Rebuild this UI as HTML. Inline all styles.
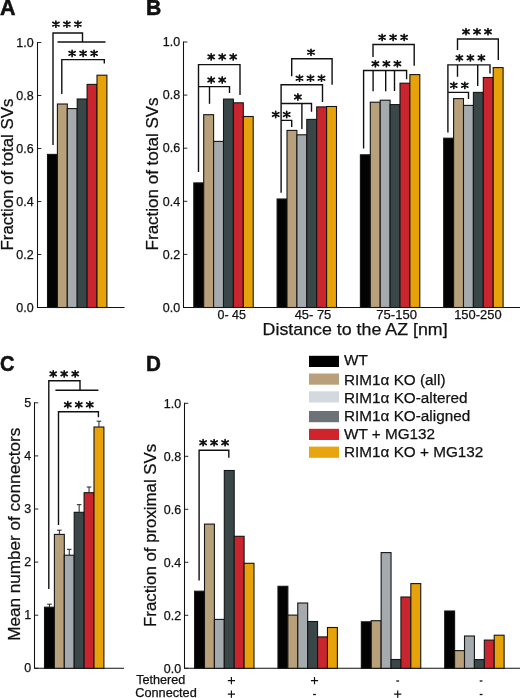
<!DOCTYPE html>
<html><head><meta charset="utf-8"><style>
html,body{margin:0;padding:0;background:#fff;width:520px;height:698px;overflow:hidden}
svg{display:block;will-change:transform}
text{font-family:"Liberation Sans", sans-serif;fill:#111;stroke:#111;stroke-width:0.25px}
</style></head><body>
<svg width="520" height="698" viewBox="0 0 520 698">
<text transform="translate(0 15.2) scale(1.0 1)" x="0" y="0" font-size="21.5" font-weight="bold" style="stroke-width:0.55px">A</text>
<text transform="translate(145.9 15.1) scale(0.97 1)" x="0" y="0" font-size="21.8" font-weight="bold" style="stroke-width:0.55px">B</text>
<text transform="translate(0.1 370.5) scale(0.93 1)" x="0" y="0" font-size="21.5" font-weight="bold" style="stroke-width:0.55px">C</text>
<text transform="translate(146.1 370.5) scale(0.96 1)" x="0" y="0" font-size="21.5" font-weight="bold" style="stroke-width:0.55px">D</text>
<path d="M37.5,42.5V307.5H124" fill="none" stroke="#111" stroke-width="1.05" stroke-linejoin="miter" stroke-linecap="square"/>
<path d="M37.5,307.50H41.3" fill="none" stroke="#111" stroke-width="0.9" />
<text x="33.6" y="312.4" font-size="12" text-anchor="end" textLength="17.35" lengthAdjust="spacingAndGlyphs" >0.0</text>
<path d="M37.5,254.50H41.3" fill="none" stroke="#111" stroke-width="0.9" />
<text x="33.6" y="259.4" font-size="12" text-anchor="end" textLength="17.35" lengthAdjust="spacingAndGlyphs" >0.2</text>
<path d="M37.5,201.50H41.3" fill="none" stroke="#111" stroke-width="0.9" />
<text x="33.6" y="206.4" font-size="12" text-anchor="end" textLength="17.35" lengthAdjust="spacingAndGlyphs" >0.4</text>
<path d="M37.5,148.50H41.3" fill="none" stroke="#111" stroke-width="0.9" />
<text x="33.6" y="153.4" font-size="12" text-anchor="end" textLength="17.35" lengthAdjust="spacingAndGlyphs" >0.6</text>
<path d="M37.5,95.50H41.3" fill="none" stroke="#111" stroke-width="0.9" />
<text x="33.6" y="100.4" font-size="12" text-anchor="end" textLength="17.35" lengthAdjust="spacingAndGlyphs" >0.8</text>
<path d="M37.5,42.50H41.3" fill="none" stroke="#111" stroke-width="0.9" />
<text x="33.6" y="47.4" font-size="12" text-anchor="end" textLength="17.35" lengthAdjust="spacingAndGlyphs" >1.0</text>
<rect x="47.50" y="154.40" width="9.90" height="153.10" fill="#030303" stroke="#151515" stroke-width="1.1"/>
<rect x="57.40" y="104.00" width="9.90" height="203.50" fill="#b8a07a" stroke="#151515" stroke-width="1.1"/>
<rect x="67.30" y="108.60" width="9.90" height="198.90" fill="#a4aaae" stroke="#151515" stroke-width="1.1"/>
<rect x="77.20" y="99.00" width="9.90" height="208.50" fill="#3a4749" stroke="#151515" stroke-width="1.1"/>
<rect x="87.10" y="84.40" width="9.90" height="223.10" fill="#c8252e" stroke="#151515" stroke-width="1.1"/>
<rect x="97.00" y="75.20" width="9.90" height="232.30" fill="#e8a209" stroke="#151515" stroke-width="1.1"/>
<path d="M53,145V33H82.5V42" fill="none" stroke="#111" stroke-width="1.4" />
<path d="M57.5,42H105.5" fill="none" stroke="#111" stroke-width="1.4" />
<path d="M55.90,21.05L55.90,27.15M52.78,22.30L59.02,25.90M59.02,22.30L52.78,25.90" stroke="#111" stroke-width="1.7" stroke-linecap="round" fill="none"/>
<path d="M66.90,21.05L66.90,27.15M63.78,22.30L70.02,25.90M70.02,22.30L63.78,25.90" stroke="#111" stroke-width="1.7" stroke-linecap="round" fill="none"/>
<path d="M77.90,21.05L77.90,27.15M74.78,22.30L81.02,25.90M81.02,22.30L74.78,25.90" stroke="#111" stroke-width="1.7" stroke-linecap="round" fill="none"/>
<path d="M61.8,94V59.6H104.3V63.5" fill="none" stroke="#111" stroke-width="1.4" />
<path d="M72.10,50.35L72.10,56.45M68.98,51.60L75.22,55.20M75.22,51.60L68.98,55.20" stroke="#111" stroke-width="1.7" stroke-linecap="round" fill="none"/>
<path d="M83.10,50.35L83.10,56.45M79.98,51.60L86.22,55.20M86.22,51.60L79.98,55.20" stroke="#111" stroke-width="1.7" stroke-linecap="round" fill="none"/>
<path d="M94.10,50.35L94.10,56.45M90.98,51.60L97.22,55.20M97.22,51.60L90.98,55.20" stroke="#111" stroke-width="1.7" stroke-linecap="round" fill="none"/>
<text x="12.6" y="174.5" font-size="16" text-anchor="middle" textLength="152" lengthAdjust="spacingAndGlyphs" transform="rotate(-90 12.6 174.5)" >Fraction of total SVs</text>
<path d="M183.5,42.0V307.5H520" fill="none" stroke="#111" stroke-width="1.05" stroke-linejoin="miter" stroke-linecap="square"/>
<path d="M183.5,307.50H187.3" fill="none" stroke="#111" stroke-width="0.9" />
<text x="180.1" y="311.7" font-size="12" text-anchor="end" textLength="17.35" lengthAdjust="spacingAndGlyphs" >0.0</text>
<path d="M183.5,254.40H187.3" fill="none" stroke="#111" stroke-width="0.9" />
<text x="180.1" y="258.6" font-size="12" text-anchor="end" textLength="17.35" lengthAdjust="spacingAndGlyphs" >0.2</text>
<path d="M183.5,201.30H187.3" fill="none" stroke="#111" stroke-width="0.9" />
<text x="180.1" y="205.5" font-size="12" text-anchor="end" textLength="17.35" lengthAdjust="spacingAndGlyphs" >0.4</text>
<path d="M183.5,148.20H187.3" fill="none" stroke="#111" stroke-width="0.9" />
<text x="180.1" y="152.4" font-size="12" text-anchor="end" textLength="17.35" lengthAdjust="spacingAndGlyphs" >0.6</text>
<path d="M183.5,95.10H187.3" fill="none" stroke="#111" stroke-width="0.9" />
<text x="180.1" y="99.3" font-size="12" text-anchor="end" textLength="17.35" lengthAdjust="spacingAndGlyphs" >0.8</text>
<path d="M183.5,42.00H187.3" fill="none" stroke="#111" stroke-width="0.9" />
<text x="180.1" y="46.2" font-size="12" text-anchor="end" textLength="17.35" lengthAdjust="spacingAndGlyphs" >1.0</text>
<rect x="193.80" y="182.90" width="9.90" height="124.60" fill="#030303" stroke="#151515" stroke-width="1.1"/>
<rect x="203.70" y="114.70" width="9.90" height="192.80" fill="#b8a07a" stroke="#151515" stroke-width="1.1"/>
<rect x="213.60" y="141.40" width="9.90" height="166.10" fill="#a4aaae" stroke="#151515" stroke-width="1.1"/>
<rect x="223.50" y="99.10" width="9.90" height="208.40" fill="#3a4749" stroke="#151515" stroke-width="1.1"/>
<rect x="233.40" y="102.80" width="9.90" height="204.70" fill="#c8252e" stroke="#151515" stroke-width="1.1"/>
<rect x="243.30" y="116.50" width="9.90" height="191.00" fill="#e8a209" stroke="#151515" stroke-width="1.1"/>
<rect x="277.10" y="199.00" width="9.90" height="108.50" fill="#030303" stroke="#151515" stroke-width="1.1"/>
<rect x="287.00" y="130.40" width="9.90" height="177.10" fill="#b8a07a" stroke="#151515" stroke-width="1.1"/>
<rect x="296.90" y="134.80" width="9.90" height="172.70" fill="#a4aaae" stroke="#151515" stroke-width="1.1"/>
<rect x="306.80" y="119.40" width="9.90" height="188.10" fill="#3a4749" stroke="#151515" stroke-width="1.1"/>
<rect x="316.70" y="106.90" width="9.90" height="200.60" fill="#c8252e" stroke="#151515" stroke-width="1.1"/>
<rect x="326.60" y="106.50" width="9.90" height="201.00" fill="#e8a209" stroke="#151515" stroke-width="1.1"/>
<rect x="360.40" y="154.80" width="9.90" height="152.70" fill="#030303" stroke="#151515" stroke-width="1.1"/>
<rect x="370.30" y="102.20" width="9.90" height="205.30" fill="#b8a07a" stroke="#151515" stroke-width="1.1"/>
<rect x="380.20" y="100.20" width="9.90" height="207.30" fill="#a4aaae" stroke="#151515" stroke-width="1.1"/>
<rect x="390.10" y="104.60" width="9.90" height="202.90" fill="#3a4749" stroke="#151515" stroke-width="1.1"/>
<rect x="400.00" y="83.20" width="9.90" height="224.30" fill="#c8252e" stroke="#151515" stroke-width="1.1"/>
<rect x="409.90" y="74.60" width="9.90" height="232.90" fill="#e8a209" stroke="#151515" stroke-width="1.1"/>
<rect x="443.70" y="138.20" width="9.90" height="169.30" fill="#030303" stroke="#151515" stroke-width="1.1"/>
<rect x="453.60" y="98.60" width="9.90" height="208.90" fill="#b8a07a" stroke="#151515" stroke-width="1.1"/>
<rect x="463.50" y="105.40" width="9.90" height="202.10" fill="#a4aaae" stroke="#151515" stroke-width="1.1"/>
<rect x="473.40" y="92.40" width="9.90" height="215.10" fill="#3a4749" stroke="#151515" stroke-width="1.1"/>
<rect x="483.30" y="77.50" width="9.90" height="230.00" fill="#c8252e" stroke="#151515" stroke-width="1.1"/>
<rect x="493.20" y="67.60" width="9.90" height="239.90" fill="#e8a209" stroke="#151515" stroke-width="1.1"/>
<path d="M198.5,172V64.6H240V95" fill="none" stroke="#111" stroke-width="1.4" />
<path d="M211.20,53.85L211.20,59.95M208.08,55.10L214.32,58.70M214.32,55.10L208.08,58.70" stroke="#111" stroke-width="1.7" stroke-linecap="round" fill="none"/>
<path d="M222.20,53.85L222.20,59.95M219.08,55.10L225.32,58.70M225.32,55.10L219.08,58.70" stroke="#111" stroke-width="1.7" stroke-linecap="round" fill="none"/>
<path d="M233.20,53.85L233.20,59.95M230.08,55.10L236.32,58.70M236.32,55.10L230.08,58.70" stroke="#111" stroke-width="1.7" stroke-linecap="round" fill="none"/>
<path d="M198.5,86.6H229.5V93" fill="none" stroke="#111" stroke-width="1.4" />
<path d="M209.5,86.6V103.8" fill="none" stroke="#111" stroke-width="1.4" />
<path d="M211.20,76.95L211.20,83.05M208.08,78.20L214.32,81.80M214.32,78.20L208.08,81.80" stroke="#111" stroke-width="1.7" stroke-linecap="round" fill="none"/>
<path d="M222.20,76.95L222.20,83.05M219.08,78.20L225.32,81.80M225.32,78.20L219.08,81.80" stroke="#111" stroke-width="1.7" stroke-linecap="round" fill="none"/>
<path d="M291.7,76.2V58.8H332.1V84.8" fill="none" stroke="#111" stroke-width="1.4" />
<path d="M311.00,49.25L311.00,55.35M307.88,50.50L314.12,54.10M314.12,50.50L307.88,54.10" stroke="#111" stroke-width="1.7" stroke-linecap="round" fill="none"/>
<path d="M281.1,192.8V84.8H322.5V102" fill="none" stroke="#111" stroke-width="1.4" />
<path d="M299.50,75.15L299.50,81.25M296.38,76.40L302.62,80.00M302.62,76.40L296.38,80.00" stroke="#111" stroke-width="1.7" stroke-linecap="round" fill="none"/>
<path d="M310.50,75.15L310.50,81.25M307.38,76.40L313.62,80.00M313.62,76.40L307.38,80.00" stroke="#111" stroke-width="1.7" stroke-linecap="round" fill="none"/>
<path d="M321.50,75.15L321.50,81.25M318.38,76.40L324.62,80.00M324.62,76.40L318.38,80.00" stroke="#111" stroke-width="1.7" stroke-linecap="round" fill="none"/>
<path d="M281.1,103.5H311.5V111.7" fill="none" stroke="#111" stroke-width="1.4" />
<path d="M301.9,103.5V129" fill="none" stroke="#111" stroke-width="1.4" />
<path d="M297.90,93.95L297.90,100.05M294.78,95.20L301.02,98.80M301.02,95.20L294.78,98.80" stroke="#111" stroke-width="1.7" stroke-linecap="round" fill="none"/>
<path d="M281.1,120.4H291.7V127" fill="none" stroke="#111" stroke-width="1.4" />
<path d="M275.70,111.45L275.70,117.55M272.58,112.70L278.82,116.30M278.82,112.70L272.58,116.30" stroke="#111" stroke-width="1.7" stroke-linecap="round" fill="none"/>
<path d="M286.70,111.45L286.70,117.55M283.58,112.70L289.82,116.30M289.82,112.70L283.58,116.30" stroke="#111" stroke-width="1.7" stroke-linecap="round" fill="none"/>
<path d="M373,57.1V44.5H414.2V65.7" fill="none" stroke="#111" stroke-width="1.4" />
<path d="M382.10,34.35L382.10,40.45M378.98,35.60L385.22,39.20M385.22,35.60L378.98,39.20" stroke="#111" stroke-width="1.7" stroke-linecap="round" fill="none"/>
<path d="M393.10,34.35L393.10,40.45M389.98,35.60L396.22,39.20M396.22,35.60L389.98,39.20" stroke="#111" stroke-width="1.7" stroke-linecap="round" fill="none"/>
<path d="M404.10,34.35L404.10,40.45M400.98,35.60L407.22,39.20M407.22,35.60L400.98,39.20" stroke="#111" stroke-width="1.7" stroke-linecap="round" fill="none"/>
<path d="M363.6,148.4V70.5H406.6V79.2" fill="none" stroke="#111" stroke-width="1.4" />
<path d="M373.1,70.5V91.2" fill="none" stroke="#111" stroke-width="1.4" />
<path d="M385.7,70.5V91.2" fill="none" stroke="#111" stroke-width="1.4" />
<path d="M394.5,70.5V91" fill="none" stroke="#111" stroke-width="1.4" />
<path d="M375.40,60.75L375.40,66.85M372.28,62.00L378.52,65.60M378.52,62.00L372.28,65.60" stroke="#111" stroke-width="1.7" stroke-linecap="round" fill="none"/>
<path d="M386.40,60.75L386.40,66.85M383.28,62.00L389.52,65.60M389.52,62.00L383.28,65.60" stroke="#111" stroke-width="1.7" stroke-linecap="round" fill="none"/>
<path d="M397.40,60.75L397.40,66.85M394.28,62.00L400.52,65.60M400.52,62.00L394.28,65.60" stroke="#111" stroke-width="1.7" stroke-linecap="round" fill="none"/>
<path d="M457.5,50V39H498.3V60" fill="none" stroke="#111" stroke-width="1.4" />
<path d="M466.00,28.65L466.00,34.75M462.88,29.90L469.12,33.50M469.12,29.90L462.88,33.50" stroke="#111" stroke-width="1.7" stroke-linecap="round" fill="none"/>
<path d="M477.00,28.65L477.00,34.75M473.88,29.90L480.12,33.50M480.12,29.90L473.88,33.50" stroke="#111" stroke-width="1.7" stroke-linecap="round" fill="none"/>
<path d="M488.00,28.65L488.00,34.75M484.88,29.90L491.12,33.50M491.12,29.90L484.88,33.50" stroke="#111" stroke-width="1.7" stroke-linecap="round" fill="none"/>
<path d="M447.9,132.5V64.9H490V73.4" fill="none" stroke="#111" stroke-width="1.4" />
<path d="M457.5,64.9V76.8" fill="none" stroke="#111" stroke-width="1.4" />
<path d="M477.7,64.9V86" fill="none" stroke="#111" stroke-width="1.4" />
<path d="M459.40,54.85L459.40,60.95M456.28,56.10L462.52,59.70M462.52,56.10L456.28,59.70" stroke="#111" stroke-width="1.7" stroke-linecap="round" fill="none"/>
<path d="M470.40,54.85L470.40,60.95M467.28,56.10L473.52,59.70M473.52,56.10L467.28,59.70" stroke="#111" stroke-width="1.7" stroke-linecap="round" fill="none"/>
<path d="M481.40,54.85L481.40,60.95M478.28,56.10L484.52,59.70M484.52,56.10L478.28,59.70" stroke="#111" stroke-width="1.7" stroke-linecap="round" fill="none"/>
<path d="M447.9,92.4H468.5V99" fill="none" stroke="#111" stroke-width="1.4" />
<path d="M453.80,82.35L453.80,88.45M450.68,83.60L456.92,87.20M456.92,83.60L450.68,87.20" stroke="#111" stroke-width="1.7" stroke-linecap="round" fill="none"/>
<path d="M464.80,82.35L464.80,88.45M461.68,83.60L467.92,87.20M467.92,83.60L461.68,87.20" stroke="#111" stroke-width="1.7" stroke-linecap="round" fill="none"/>
<text x="158.3" y="173.9" font-size="16" text-anchor="middle" textLength="153" lengthAdjust="spacingAndGlyphs" transform="rotate(-90 158.3 173.9)" >Fraction of total SVs</text>
<text x="231.75" y="318.6" font-size="12.4" text-anchor="middle" textLength="28.5" lengthAdjust="spacingAndGlyphs" >0- 45</text>
<text x="313" y="318.6" font-size="12.4" text-anchor="middle" textLength="36.6" lengthAdjust="spacingAndGlyphs" >45- 75</text>
<text x="396.6" y="318.6" font-size="12.4" text-anchor="middle" textLength="40.6" lengthAdjust="spacingAndGlyphs" >75-150</text>
<text x="477.9" y="318.6" font-size="12.4" text-anchor="middle" textLength="47.4" lengthAdjust="spacingAndGlyphs" >150-250</text>
<text x="355.1" y="334.6" font-size="17" text-anchor="middle" textLength="185" lengthAdjust="spacingAndGlyphs" >Distance to the AZ [nm]</text>
<path d="M34.5,402.8V668.3H123.5" fill="none" stroke="#111" stroke-width="1.05" stroke-linejoin="miter" stroke-linecap="square"/>
<path d="M34.5,668.30H38.3" fill="none" stroke="#111" stroke-width="0.9" />
<text x="31.1" y="672.4" font-size="12" text-anchor="end" textLength="6.94" lengthAdjust="spacingAndGlyphs" >0</text>
<path d="M34.5,615.20H38.3" fill="none" stroke="#111" stroke-width="0.9" />
<text x="31.1" y="619.3" font-size="12" text-anchor="end" textLength="6.94" lengthAdjust="spacingAndGlyphs" >1</text>
<path d="M34.5,562.10H38.3" fill="none" stroke="#111" stroke-width="0.9" />
<text x="31.1" y="566.1999999999999" font-size="12" text-anchor="end" textLength="6.94" lengthAdjust="spacingAndGlyphs" >2</text>
<path d="M34.5,509.00H38.3" fill="none" stroke="#111" stroke-width="0.9" />
<text x="31.1" y="513.0999999999999" font-size="12" text-anchor="end" textLength="6.94" lengthAdjust="spacingAndGlyphs" >3</text>
<path d="M34.5,455.90H38.3" fill="none" stroke="#111" stroke-width="0.9" />
<text x="31.1" y="460.0" font-size="12" text-anchor="end" textLength="6.94" lengthAdjust="spacingAndGlyphs" >4</text>
<path d="M34.5,402.80H38.3" fill="none" stroke="#111" stroke-width="0.9" />
<text x="31.1" y="406.9" font-size="12" text-anchor="end" textLength="6.94" lengthAdjust="spacingAndGlyphs" >5</text>
<rect x="44.50" y="607.20" width="9.90" height="61.10" fill="#030303" stroke="#151515" stroke-width="1.1"/>
<path d="M49.45,607.2V604.2M47.150000000000006,604.2H51.75" fill="none" stroke="#222" stroke-width="1.0" />
<rect x="54.40" y="534.40" width="9.90" height="133.90" fill="#b8a07a" stroke="#151515" stroke-width="1.1"/>
<path d="M59.35,534.4V530.2M57.050000000000004,530.2H61.65" fill="none" stroke="#222" stroke-width="1.0" />
<rect x="64.30" y="555.20" width="9.90" height="113.10" fill="#a4aaae" stroke="#151515" stroke-width="1.1"/>
<path d="M69.25,555.2V549.3M66.95,549.3H71.55" fill="none" stroke="#222" stroke-width="1.0" />
<rect x="74.20" y="512.30" width="9.90" height="156.00" fill="#3a4749" stroke="#151515" stroke-width="1.1"/>
<path d="M79.15,512.3V504.7M76.85000000000001,504.7H81.45" fill="none" stroke="#222" stroke-width="1.0" />
<rect x="84.10" y="492.70" width="9.90" height="175.60" fill="#c8252e" stroke="#151515" stroke-width="1.1"/>
<path d="M89.05000000000001,492.7V487.0M86.75000000000001,487.0H91.35000000000001" fill="none" stroke="#222" stroke-width="1.0" />
<rect x="94.00" y="427.00" width="9.90" height="241.30" fill="#e8a209" stroke="#151515" stroke-width="1.1"/>
<path d="M98.95,427.0V421.2M96.65,421.2H101.25" fill="none" stroke="#222" stroke-width="1.0" />
<path d="M48.8,589V380.7H80V390.2" fill="none" stroke="#111" stroke-width="1.4" />
<path d="M55.4,390.2H98.4" fill="none" stroke="#111" stroke-width="1.4" />
<path d="M53.20,370.85L53.20,376.95M50.08,372.10L56.32,375.70M56.32,372.10L50.08,375.70" stroke="#111" stroke-width="1.7" stroke-linecap="round" fill="none"/>
<path d="M64.20,370.85L64.20,376.95M61.08,372.10L67.32,375.70M67.32,372.10L61.08,375.70" stroke="#111" stroke-width="1.7" stroke-linecap="round" fill="none"/>
<path d="M75.20,370.85L75.20,376.95M72.08,372.10L78.32,375.70M78.32,372.10L72.08,375.70" stroke="#111" stroke-width="1.7" stroke-linecap="round" fill="none"/>
<path d="M58.5,525V411.8H98.4V417.3" fill="none" stroke="#111" stroke-width="1.4" />
<path d="M67.80,401.65L67.80,407.75M64.68,402.90L70.92,406.50M70.92,402.90L64.68,406.50" stroke="#111" stroke-width="1.7" stroke-linecap="round" fill="none"/>
<path d="M78.80,401.65L78.80,407.75M75.68,402.90L81.92,406.50M81.92,402.90L75.68,406.50" stroke="#111" stroke-width="1.7" stroke-linecap="round" fill="none"/>
<path d="M89.80,401.65L89.80,407.75M86.68,402.90L92.92,406.50M92.92,402.90L86.68,406.50" stroke="#111" stroke-width="1.7" stroke-linecap="round" fill="none"/>
<text x="20.3" y="534.3" font-size="16" text-anchor="middle" textLength="213" lengthAdjust="spacingAndGlyphs" transform="rotate(-90 20.3 534.3)" >Mean number of connectors</text>
<path d="M184.5,403.3V668.3H520" fill="none" stroke="#111" stroke-width="1.05" stroke-linejoin="miter" stroke-linecap="square"/>
<path d="M184.5,668.30H188.3" fill="none" stroke="#111" stroke-width="0.9" />
<text x="181.1" y="673.1999999999999" font-size="12" text-anchor="end" textLength="17.35" lengthAdjust="spacingAndGlyphs" >0.0</text>
<path d="M184.5,615.30H188.3" fill="none" stroke="#111" stroke-width="0.9" />
<text x="181.1" y="620.1999999999999" font-size="12" text-anchor="end" textLength="17.35" lengthAdjust="spacingAndGlyphs" >0.2</text>
<path d="M184.5,562.30H188.3" fill="none" stroke="#111" stroke-width="0.9" />
<text x="181.1" y="567.1999999999999" font-size="12" text-anchor="end" textLength="17.35" lengthAdjust="spacingAndGlyphs" >0.4</text>
<path d="M184.5,509.30H188.3" fill="none" stroke="#111" stroke-width="0.9" />
<text x="181.1" y="514.1999999999999" font-size="12" text-anchor="end" textLength="17.35" lengthAdjust="spacingAndGlyphs" >0.6</text>
<path d="M184.5,456.30H188.3" fill="none" stroke="#111" stroke-width="0.9" />
<text x="181.1" y="461.19999999999993" font-size="12" text-anchor="end" textLength="17.35" lengthAdjust="spacingAndGlyphs" >0.8</text>
<path d="M184.5,403.30H188.3" fill="none" stroke="#111" stroke-width="0.9" />
<text x="181.1" y="408.19999999999993" font-size="12" text-anchor="end" textLength="17.35" lengthAdjust="spacingAndGlyphs" >1.0</text>
<rect x="194.60" y="591.20" width="9.90" height="77.10" fill="#030303" stroke="#151515" stroke-width="1.1"/>
<rect x="204.50" y="524.10" width="9.90" height="144.20" fill="#b8a07a" stroke="#151515" stroke-width="1.1"/>
<rect x="214.40" y="619.40" width="9.90" height="48.90" fill="#a4aaae" stroke="#151515" stroke-width="1.1"/>
<rect x="224.30" y="470.50" width="9.90" height="197.80" fill="#3a4749" stroke="#151515" stroke-width="1.1"/>
<rect x="234.20" y="536.30" width="9.90" height="132.00" fill="#c8252e" stroke="#151515" stroke-width="1.1"/>
<rect x="244.10" y="563.30" width="9.90" height="105.00" fill="#e8a209" stroke="#151515" stroke-width="1.1"/>
<rect x="277.97" y="586.30" width="9.90" height="82.00" fill="#030303" stroke="#151515" stroke-width="1.1"/>
<rect x="287.87" y="615.10" width="9.90" height="53.20" fill="#b8a07a" stroke="#151515" stroke-width="1.1"/>
<rect x="297.77" y="603.00" width="9.90" height="65.30" fill="#a4aaae" stroke="#151515" stroke-width="1.1"/>
<rect x="307.67" y="621.50" width="9.90" height="46.80" fill="#3a4749" stroke="#151515" stroke-width="1.1"/>
<rect x="317.57" y="636.90" width="9.90" height="31.40" fill="#c8252e" stroke="#151515" stroke-width="1.1"/>
<rect x="327.47" y="627.50" width="9.90" height="40.80" fill="#e8a209" stroke="#151515" stroke-width="1.1"/>
<rect x="361.34" y="621.80" width="9.90" height="46.50" fill="#030303" stroke="#151515" stroke-width="1.1"/>
<rect x="371.24" y="620.70" width="9.90" height="47.60" fill="#b8a07a" stroke="#151515" stroke-width="1.1"/>
<rect x="381.14" y="552.60" width="9.90" height="115.70" fill="#a4aaae" stroke="#151515" stroke-width="1.1"/>
<rect x="391.04" y="659.50" width="9.90" height="8.80" fill="#3a4749" stroke="#151515" stroke-width="1.1"/>
<rect x="400.94" y="597.00" width="9.90" height="71.30" fill="#c8252e" stroke="#151515" stroke-width="1.1"/>
<rect x="410.84" y="583.60" width="9.90" height="84.70" fill="#e8a209" stroke="#151515" stroke-width="1.1"/>
<rect x="444.71" y="611.00" width="9.90" height="57.30" fill="#030303" stroke="#151515" stroke-width="1.1"/>
<rect x="454.61" y="650.60" width="9.90" height="17.70" fill="#b8a07a" stroke="#151515" stroke-width="1.1"/>
<rect x="464.51" y="636.00" width="9.90" height="32.30" fill="#a4aaae" stroke="#151515" stroke-width="1.1"/>
<rect x="474.41" y="659.60" width="9.90" height="8.70" fill="#3a4749" stroke="#151515" stroke-width="1.1"/>
<rect x="484.31" y="640.10" width="9.90" height="28.20" fill="#c8252e" stroke="#151515" stroke-width="1.1"/>
<rect x="494.21" y="635.20" width="9.90" height="33.10" fill="#e8a209" stroke="#151515" stroke-width="1.1"/>
<path d="M199.1,580.4V450.2H228.8V457.8" fill="none" stroke="#111" stroke-width="1.4" />
<path d="M203.10,439.65L203.10,445.75M199.98,440.90L206.22,444.50M206.22,440.90L199.98,444.50" stroke="#111" stroke-width="1.7" stroke-linecap="round" fill="none"/>
<path d="M214.10,439.65L214.10,445.75M210.98,440.90L217.22,444.50M217.22,440.90L210.98,444.50" stroke="#111" stroke-width="1.7" stroke-linecap="round" fill="none"/>
<path d="M225.10,439.65L225.10,445.75M221.98,440.90L228.22,444.50M228.22,440.90L221.98,444.50" stroke="#111" stroke-width="1.7" stroke-linecap="round" fill="none"/>
<text x="156.0" y="535.4" font-size="16" text-anchor="middle" textLength="183" lengthAdjust="spacingAndGlyphs" transform="rotate(-90 156.0 535.4)" >Fraction of proximal SVs</text>
<text x="136.2" y="683.6" font-size="12.3" textLength="49.1" lengthAdjust="spacingAndGlyphs" >Tethered</text>
<text x="135.2" y="696.5" font-size="12.3" textLength="61.6" lengthAdjust="spacingAndGlyphs" >Connected</text>
<path d="M227.8,680.6H235.0M231.4,677.0V684.2" fill="none" stroke="#111" stroke-width="1.2" />
<path d="M227.8,694.2H235.0M231.4,690.6V697.8000000000001" fill="none" stroke="#111" stroke-width="1.2" />
<path d="M310.9,680.6H318.1M314.5,677.0V684.2" fill="none" stroke="#111" stroke-width="1.2" />
<path d="M313.1,694.5H315.9" fill="none" stroke="#111" stroke-width="1.3" />
<path d="M396.3,681.0H399.09999999999997" fill="none" stroke="#111" stroke-width="1.3" />
<path d="M394.09999999999997,694.2H401.3M397.7,690.6V697.8000000000001" fill="none" stroke="#111" stroke-width="1.2" />
<path d="M479.70000000000005,681.0H482.5" fill="none" stroke="#111" stroke-width="1.3" />
<path d="M479.70000000000005,694.5H482.5" fill="none" stroke="#111" stroke-width="1.3" />
<rect x="309.00" y="355.80" width="30.00" height="11.20" fill="#000000"/>
<text x="344.0" y="365.4" font-size="15.3" >WT</text>
<rect x="309.00" y="373.50" width="30.00" height="11.20" fill="#b9a07b"/>
<text x="344.0" y="384.5" font-size="15.3" >RIM1α KO (all)</text>
<rect x="309.00" y="391.30" width="30.00" height="11.20" fill="#d2dae0"/>
<text x="344.0" y="402.7" font-size="15.3" >RIM1α KO-altered</text>
<rect x="309.00" y="411.00" width="30.00" height="11.20" fill="#6c7276"/>
<text x="344.0" y="420.7" font-size="15.3" >RIM1α KO-aligned</text>
<rect x="309.00" y="428.80" width="30.00" height="11.20" fill="#d0242c"/>
<text x="344.0" y="439.0" font-size="15.3" >WT + MG132</text>
<rect x="309.00" y="446.60" width="30.00" height="11.20" fill="#e8a50e"/>
<text x="344.0" y="457.1" font-size="15.3" >RIM1α KO + MG132</text>
</svg>
</body></html>
